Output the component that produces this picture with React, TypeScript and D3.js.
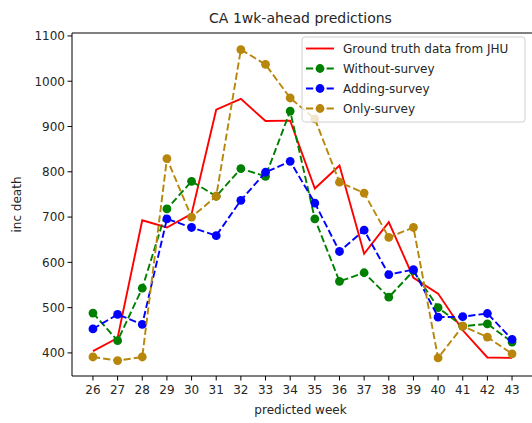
import React from "react";
import * as d3 from "d3";

const weeks = [26, 27, 28, 29, 30, 31, 32, 33, 34, 35, 36, 37, 38, 39, 40, 41, 42, 43];
const groundTruth = [404, 433, 693, 677, 707, 937, 961, 912, 913, 763, 814, 619, 689, 566, 531, 450, 390, 389];
const withoutSurvey = [488, 427, 543, 718, 779, 746, 807, 790, 934, 696, 558, 577, 523, 581, 500, 459, 464, 424];
const addingSurvey = [453, 485, 463, 696, 677, 659, 737, 799, 823, 731, 624, 671, 573, 584, 479, 480, 487, 430];
const onlySurvey = [391, 383, 391, 829, 700, 746, 1070, 1037, 963, 917, 777, 753, 655, 677, 389, 459, 435, 398];
const yTicks = [400, 500, 600, 700, 800, 900, 1000, 1100];
const seriesNames = ["Ground truth data from JHU", "Without-survey", "Adding-survey", "Only-survey"];
const seriesColors = ["#ff0000", "#008000", "#0000ff", "#b8860b"];

export default function App() {
  const W = 532, H = 423;
  const left = 72, right = 533, top = 33, bottom = 376;
  const x = d3.scaleLinear().domain([25.15, 43.85]).range([left, right]);
  const y = d3.scaleLinear().domain([349, 1106.5]).range([bottom, top]);
  const all = [groundTruth, withoutSurvey, addingSurvey, onlySurvey];
  const line = d3.line<number>().x((_, i) => x(weeks[i])).y((d) => y(d));
  const font = "DejaVu Sans, sans-serif";
  const dash = "7.2,3.1";
  const legX = 302, legY = 37;
  return (
    <svg width={W} height={H} style={{ position: "absolute", left: 0, top: 0, background: "#fff" }}>
      <rect x={0} y={0} width={W} height={H} fill="#fff" />
      <defs>
        <clipPath id="plot">
          <rect x={left} y={top} width={right - left} height={bottom - top} />
        </clipPath>
      </defs>
      <g clipPath="url(#plot)">
        {all.map((s, k) => (
          <g key={k}>
            <path
              d={line(s) || ""}
              fill="none"
              stroke={seriesColors[k]}
              strokeWidth={1.9}
              strokeDasharray={k === 0 ? undefined : dash}
            />
            {k > 0 &&
              s.map((v, i) => (
                <circle key={i} cx={x(weeks[i])} cy={y(v)} r={4.4} fill={seriesColors[k]} />
              ))}
          </g>
        ))}
      </g>
      {/* spines */}
      <line x1={left} x2={left} y1={top} y2={bottom} stroke="#000" strokeWidth={1} />
      <line x1={left} x2={right} y1={bottom} y2={bottom} stroke="#000" strokeWidth={1} />
      <line x1={left} x2={right} y1={top} y2={top} stroke="#000" strokeWidth={1} />
      <line x1={right} x2={right} y1={top} y2={bottom} stroke="#000" strokeWidth={1} />
      {/* x ticks */}
      {weeks.map((w) => (
        <g key={w}>
          <line x1={x(w)} x2={x(w)} y1={bottom} y2={bottom + 4.5} stroke="#000" />
          <text x={x(w)} y={bottom + 18} fontSize={12} fontFamily={font} textAnchor="middle" fill="#262626">
            {w}
          </text>
        </g>
      ))}
      {yTicks.map((t) => (
        <g key={t}>
          <line x1={left - 4.5} x2={left} y1={y(t)} y2={y(t)} stroke="#000" />
          <text x={left - 7} y={y(t) + 4.3} fontSize={12} fontFamily={font} textAnchor="end" fill="#262626">
            {t}
          </text>
        </g>
      ))}
      <text x={(left + right) / 2 - 2} y={414} fontSize={12} fontFamily={font} textAnchor="middle" fill="#262626">
        predicted week
      </text>
      <text
        transform={`translate(21,${(top + bottom) / 2}) rotate(-90)`}
        fontSize={12}
        fontFamily={font}
        textAnchor="middle"
        fill="#262626"
      >
        inc death
      </text>
      <text x={(left + right) / 2 - 2} y={23} fontSize={14} fontFamily={font} textAnchor="middle" fill="#262626">
        CA 1wk-ahead predictions
      </text>
      {/* legend */}
      <rect x={legX} y={legY} width={223} height={85} rx={3} fill="#fff" fillOpacity={0.8} stroke="#d0d0d0" />
      {seriesNames.map((n, k) => {
        const ly = legY + 11.5 + k * 20;
        return (
          <g key={n}>
            <line
              x1={legX + 4}
              x2={legX + 32}
              y1={ly}
              y2={ly}
              stroke={seriesColors[k]}
              strokeWidth={1.9}
              strokeDasharray={k === 0 ? undefined : dash}
            />
            {k > 0 && <circle cx={legX + 18} cy={ly} r={4.4} fill={seriesColors[k]} />}
            <text x={legX + 41} y={ly + 4.5} fontSize={12} fontFamily={font} fill="#262626">
              {n}
            </text>
          </g>
        );
      })}
    </svg>
  );
}
